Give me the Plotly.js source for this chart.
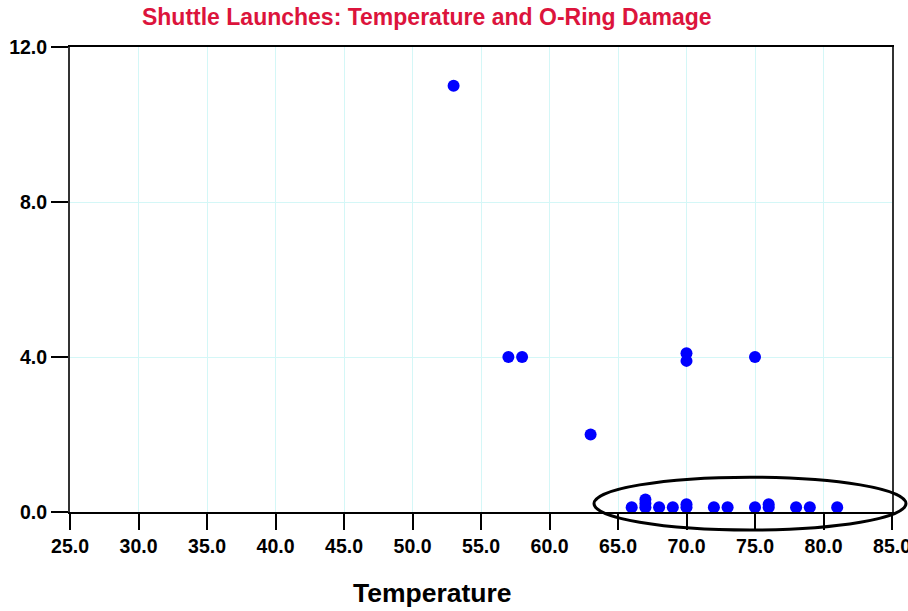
<!DOCTYPE html>
<html>
<head>
<meta charset="utf-8">
<script src="https://cdn.plot.ly/plotly-3.0.1.min.js"></script>
<style>html,body{margin:0;padding:0;background:#fff;}#chart{width:908px;height:611px;}</style>
</head>
<body>
<div id="chart"></div>
<script>
// Launch temperature (°F) and O-ring damage index (zero-damage flights drawn slightly stacked)
var temperature = [53, 57, 58, 63, 70, 70, 75,
                   66, 67, 67, 67, 68, 69, 70, 70, 72, 73, 75, 76, 76, 78, 79, 81];
var damage      = [11, 4, 4, 2, 3.9, 4.1, 4,
                   0.12, 0.12, 0.22, 0.32, 0.12, 0.12, 0.12, 0.2, 0.12, 0.12, 0.12, 0.12, 0.2, 0.12, 0.12, 0.12];
var xTicks = [25, 30, 35, 40, 45, 50, 55, 60, 65, 70, 75, 80, 85];
var yTicks = [0, 4, 8, 12];

var tickFont = {family: 'Liberation Sans, Arial, sans-serif', size: 19.5, color: '#000', weight: 'bold'};

var trace = {
  x: temperature, y: damage, type: 'scatter', mode: 'markers',
  marker: {color: '#0000ff', size: 12, line: {width: 0}},
  cliponaxis: false, hoverinfo: 'x+y'
};

var layout = {
  width: 908, height: 611,
  margin: {l: 70, r: 16, t: 47, b: 99},
  paper_bgcolor: '#fff', plot_bgcolor: '#fff',
  showlegend: false,
  title: {
    text: 'Shuttle Launches: Temperature and O-Ring Damage',
    font: {family: 'Liberation Sans, Arial, sans-serif', size: 23, color: '#dc143c', weight: 'bold'},
    xref: 'container', yref: 'container', x: 0.470, y: 0.972, xanchor: 'center', yanchor: 'middle'
  },
  xaxis: {
    range: [25, 85], tickmode: 'array', tickvals: xTicks,
    ticktext: xTicks.map(function(v){return v.toFixed(1);}),
    ticks: 'outside', ticklen: 16, tickwidth: 2, tickcolor: '#000',
    showline: true, linecolor: '#000', linewidth: 2, mirror: true,
    showgrid: true, gridcolor: '#d4f7f7', gridwidth: 1, zeroline: false,
    tickfont: tickFont, ticklabeloverflow: 'allow'
  },
  yaxis: {
    range: [0, 12], tickmode: 'array', tickvals: yTicks,
    ticktext: yTicks.map(function(v){return v.toFixed(1);}),
    ticks: 'outside', ticklen: 17, tickwidth: 2, tickcolor: '#000',
    showline: true, linecolor: '#333', linewidth: 2, mirror: true,
    showgrid: true, gridcolor: '#d4f7f7', gridwidth: 1, zeroline: false,
    tickfont: tickFont, ticklabeloverflow: 'allow'
  },
  shapes: [{
    type: 'circle', xref: 'paper', yref: 'paper',
    x0: 0.6375, x1: 1.017, y0: -0.0387, y1: 0.075,
    line: {color: '#000', width: 3}, fillcolor: 'rgba(0,0,0,0)'
  }],
  annotations: [{
    text: 'Temperature', xref: 'paper', yref: 'paper', x: 0.4416, y: -0.174,
    xanchor: 'center', yanchor: 'middle', showarrow: false,
    font: {family: 'Liberation Sans, Arial, sans-serif', size: 26.5, color: '#000', weight: 'bold'}
  }]
};

Plotly.newPlot('chart', [trace], layout, {displayModeBar: false, staticPlot: true});
</script>
</body>
</html>
